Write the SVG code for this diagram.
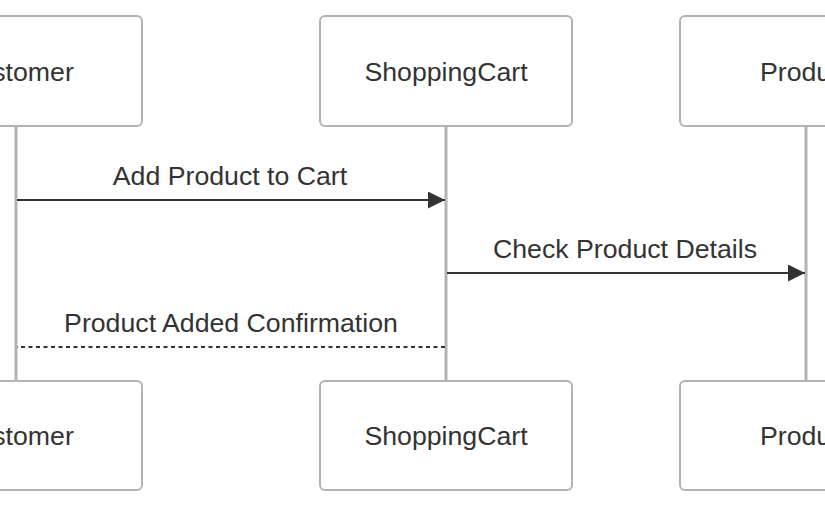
<svg xmlns="http://www.w3.org/2000/svg" width="825" height="510" viewBox="0 0 825 510">
<defs>
<style>
.box{fill:#ffffff;stroke:#b3b3b3;stroke-width:2}
.life{stroke:#b3b3b3;stroke-width:3}
.lbl{font-family:"Liberation Sans",Arial,sans-serif;font-size:26.7px;fill:#333333;text-anchor:middle}
.msg{stroke:#333333;stroke-width:2.2;fill:none}
.dash{stroke-dasharray:4,3.5}
</style>
<marker id="arr" viewBox="0 0 10 10" refX="10" refY="5" markerUnits="userSpaceOnUse" markerWidth="19" markerHeight="17" orient="auto">
<path d="M0,0 L10,5 L0,10 Z" fill="#333333"/>
</marker>
</defs>
<rect width="825" height="510" fill="#ffffff"/>
<g id="lifelines">
<line class="life" x1="16" y1="126" x2="16" y2="381"/>
<line class="life" x1="446" y1="126" x2="446" y2="381"/>
<line class="life" x1="806" y1="126" x2="806" y2="381"/>
</g>
<g id="customer-top"><rect class="box" x="-110" y="16" width="252" height="110" rx="5"/><text class="lbl" x="16" y="80.5">Customer</text></g>
<g id="cart-top"><rect class="box" x="320" y="16" width="252" height="110" rx="5"/><text class="lbl" x="446" y="80.5">ShoppingCart</text></g>
<g id="product-top"><rect class="box" x="680" y="16" width="252" height="110" rx="5"/><text class="lbl" x="806" y="80.5">Product</text></g>
<g id="customer-bottom"><rect class="box" x="-110" y="381" width="252" height="109" rx="5"/><text class="lbl" x="16" y="445">Customer</text></g>
<g id="cart-bottom"><rect class="box" x="320" y="381" width="252" height="109" rx="5"/><text class="lbl" x="446" y="445">ShoppingCart</text></g>
<g id="product-bottom"><rect class="box" x="680" y="381" width="252" height="109" rx="5"/><text class="lbl" x="806" y="445">Product</text></g>
<g id="connectors">
<line class="msg" x1="17" y1="200" x2="445" y2="200" marker-end="url(#arr)"/>
<text class="lbl" x="230" y="185">Add Product to Cart</text>
<line class="msg" x1="447" y1="273" x2="805" y2="273" marker-end="url(#arr)"/>
<text class="lbl" x="625" y="258">Check Product Details</text>
<line class="msg dash" x1="445" y1="347" x2="17" y2="347"/>
<text class="lbl" x="231" y="332">Product Added Confirmation</text>
</g>
</svg>
